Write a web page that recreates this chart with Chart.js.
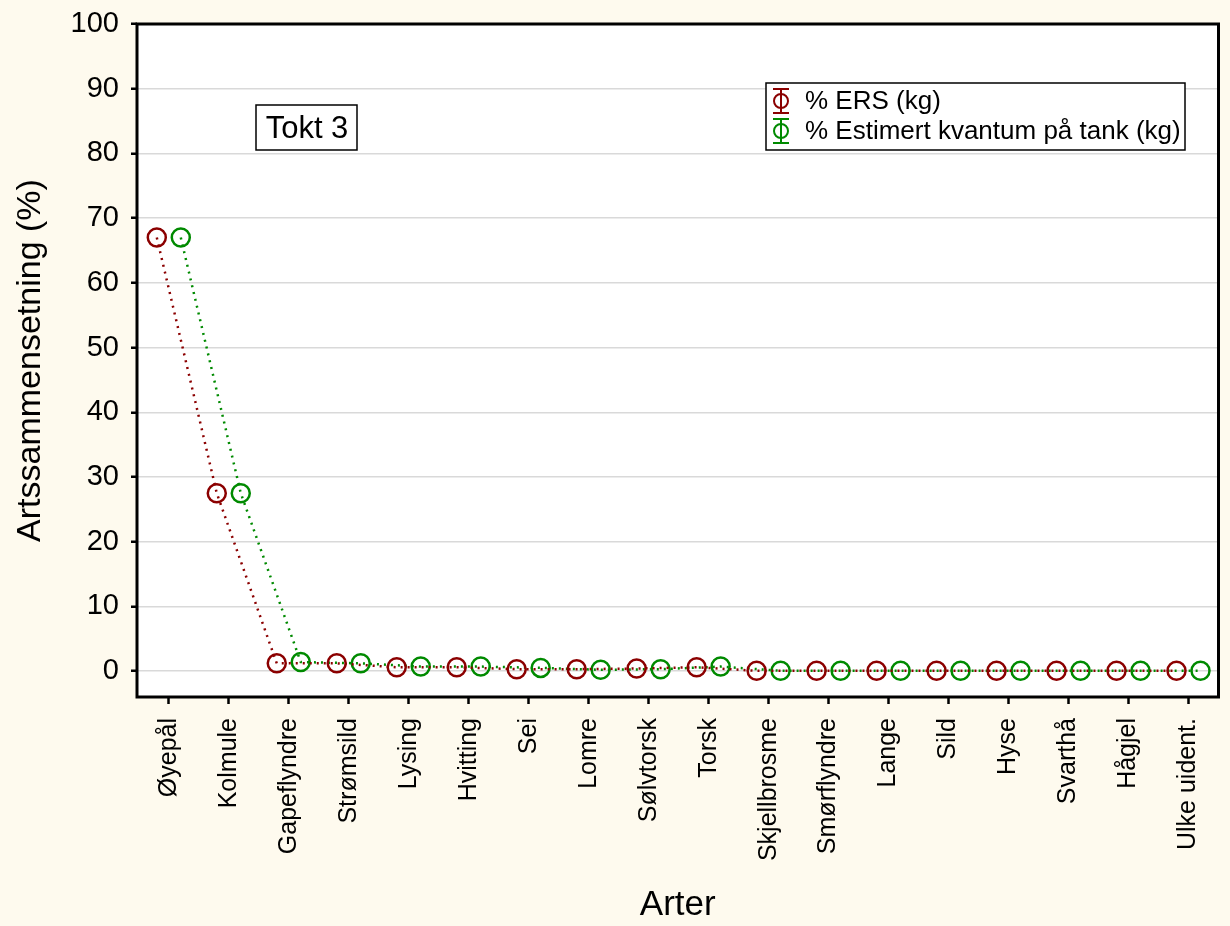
<!DOCTYPE html>
<html>
<head>
<meta charset="utf-8">
<script src="https://cdn.jsdelivr.net/npm/chart.js@4/dist/chart.umd.min.js"></script>
<style>
	html, body { margin: 0; padding: 0; background: #fefaee; }
	#wrap { width: 1230px; height: 926px; }
</style>
</head>
<body>
<div id="wrap"><canvas id="artChart" width="1230" height="926"></canvas></div>
<script>

const categories = ['Øyepål', 'Kolmule', 'Gapeflyndre', 'Strømsild', 'Lysing', 'Hvitting', 'Sei', 'Lomre', 'Sølvtorsk', 'Torsk', 'Skjellbrosme', 'Smørflyndre', 'Lange', 'Sild', 'Hyse', 'Svarthå', 'Hågjel', 'Ulke uident.'];
const ersValues = [67.0, 27.5, 1.2, 1.2, 0.6, 0.6, 0.3, 0.3, 0.4, 0.6, 0.05, 0.05, 0.05, 0.05, 0.05, 0.05, 0.05, 0.05];
const tankValues = [67.0, 27.5, 1.4, 1.2, 0.7, 0.7, 0.5, 0.2, 0.3, 0.7, 0.05, 0.05, 0.05, 0.05, 0.05, 0.05, 0.05, 0.05];
const yTicks = [0, 10, 20, 30, 40, 50, 60, 70, 80, 90, 100];
const seriesNames = ['% ERS (kg)', '% Estimert kvantum på tank (kg)'];

const RED = '#8b0000';
const GREEN = '#008a00';
const FONT = 'Liberation Sans, Arial, sans-serif';

function toPoints(values, shift) {
	return values.map((v, i) => ({ x: i + shift, y: v }));
}

function drawLegendIcon(ctx, x, y, color) {
	ctx.save();
	ctx.strokeStyle = color;
	ctx.lineWidth = 2;
	ctx.beginPath();
	ctx.moveTo(x, y - 12); ctx.lineTo(x, y + 12);
	ctx.moveTo(x - 8, y - 12); ctx.lineTo(x + 8, y - 12);
	ctx.moveTo(x - 8, y + 12); ctx.lineTo(x + 8, y + 12);
	ctx.stroke();
	ctx.beginPath();
	ctx.arc(x, y, 7, 0, Math.PI * 2);
	ctx.stroke();
	ctx.restore();
}

const framePlugin = {
	id: 'frame',
	beforeDraw(chart) {
		let a = chart.chartArea;
		let ctx = chart.ctx;
		ctx.save();
		ctx.fillStyle = '#ffffff';
		ctx.fillRect(a.left, a.top, a.right - a.left, a.bottom - a.top);
		ctx.restore();
	},
	afterDraw(chart) {
		let a = chart.chartArea;
		let ctx = chart.ctx;
		ctx.save();
		ctx.strokeStyle = '#000';
		ctx.lineWidth = 3;
		ctx.strokeRect(a.left, a.top, a.right - a.left, a.bottom - a.top);

		// Tokt 3 label
		ctx.lineWidth = 1.5;
		ctx.fillStyle = '#fff';
		ctx.fillRect(256, 105, 101, 45);
		ctx.strokeRect(256, 105, 101, 45);
		ctx.fillStyle = '#000';
		ctx.font = '31px ' + FONT;
		ctx.textAlign = 'center';
		ctx.textBaseline = 'middle';
		ctx.fillText('Tokt 3', 307, 129);

		// legend
		ctx.fillStyle = '#fff';
		ctx.fillRect(766, 83, 419, 67);
		ctx.strokeRect(766, 83, 419, 67);
		drawLegendIcon(ctx, 781, 101, RED);
		drawLegendIcon(ctx, 781, 131, GREEN);
		ctx.fillStyle = '#000';
		ctx.font = '26px ' + FONT;
		ctx.textAlign = 'left';
		ctx.fillText(seriesNames[0], 805, 102);
		ctx.fillText(seriesNames[1], 805, 132);
		ctx.restore();
	}
};

function addArtChart() {

	let ctx = document.getElementById('artChart').getContext('2d');
	let myChart = new Chart(ctx, {
		type: 'line',
		data: {
			datasets: [{
				label: seriesNames[0],
				data: toPoints(ersValues, -0.2),
				borderColor: RED,
				backgroundColor: 'rgba(0,0,0,0)',
				borderWidth: 2.5,
				borderDash: [2, 5],
				pointRadius: 9,
				pointBorderWidth: 2.5,
				pointBorderColor: RED,
				pointBackgroundColor: 'rgba(0,0,0,0)',
				tension: 0
			}, {
				label: seriesNames[1],
				data: toPoints(tankValues, 0.2),
				borderColor: GREEN,
				backgroundColor: 'rgba(0,0,0,0)',
				borderWidth: 2.5,
				borderDash: [2, 5],
				pointRadius: 9,
				pointBorderWidth: 2.5,
				pointBorderColor: GREEN,
				pointBackgroundColor: 'rgba(0,0,0,0)',
				tension: 0
			}]
		},
		options: {
			responsive: false,
			animation: false,
			layout: { padding: { top: 24, right: 6, left: 0, bottom: 0 } },
			plugins: {
				legend: { display: false },
				tooltip: { enabled: false }
			},
			scales: {
				x: {
					type: 'linear',
					min: -0.53,
					max: 17.5,
					afterBuildTicks: (scale) => {
						scale.ticks = categories.map((c, i) => ({ value: i }));
					},
					afterFit: (scale) => {
						scale.height = 229;
						scale.paddingLeft = 0;
						scale.paddingRight = 0;
					},
					ticks: {
						autoSkip: false,
						maxRotation: 90,
						minRotation: 90,
						padding: 14,
						color: '#000',
						font: { family: FONT, size: 25 },
						callback: (v) => categories[v]
					},
					grid: {
						drawOnChartArea: false,
						tickLength: 7,
						tickColor: '#000',
						tickWidth: 2.5
					},
					border: { display: false },
					title: {
						display: true,
						text: 'Arter',
						color: '#000',
						font: { family: FONT, size: 35 },
						padding: { top: 0, bottom: 0 }
					}
				},
				y: {
					min: -4,
					max: 100,
					afterBuildTicks: (scale) => {
						scale.ticks = yTicks.map((v) => ({ value: v }));
					},
					afterFit: (scale) => {
						scale.width = 137;
						scale.paddingTop = 0;
						scale.paddingBottom = 0;
					},
					ticks: {
						padding: 12,
						color: '#000',
						font: { family: FONT, size: 29 }
					},
					grid: {
						color: '#d9d9d9',
						lineWidth: 1.5,
						tickLength: 6,
						tickColor: '#000',
						tickWidth: 2.5
					},
					border: { display: false },
					title: {
						display: true,
						text: 'Artssammensetning (%)',
						color: '#000',
						font: { family: FONT, size: 34 },
						padding: { top: 10, bottom: 0 }
					}
				}
			}
		},
		plugins: [framePlugin]
	});

}

addArtChart();

</script>
</body>
</html>
